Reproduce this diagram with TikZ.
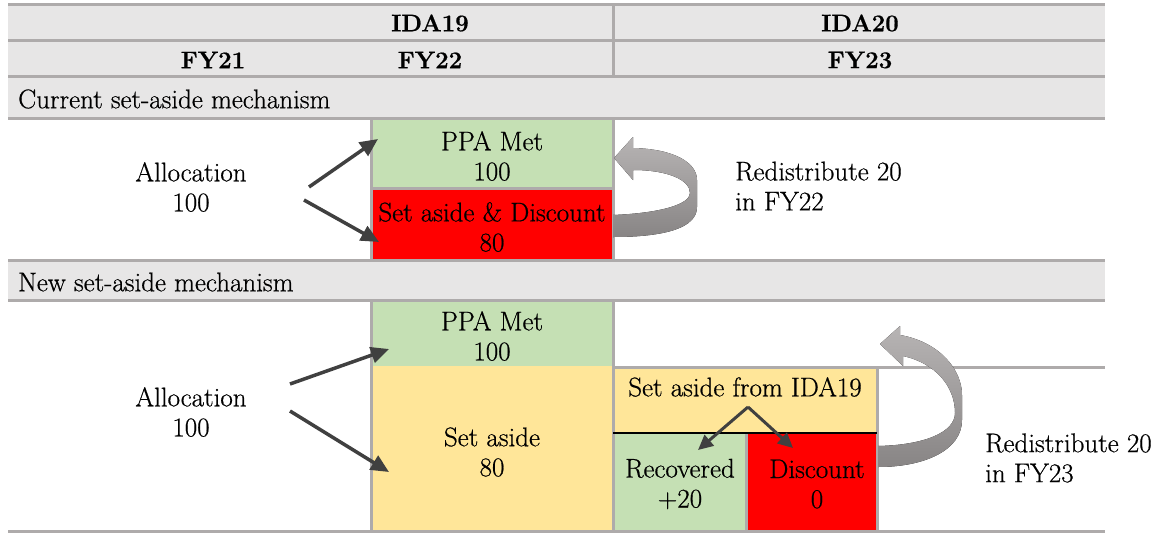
\documentclass[tikz,border=0pt]{standalone}
\usepackage{fontspec}
\setmainfont{Latin Modern Roman}[FakeBold=0.6]
\usetikzlibrary{arrows.meta}
\definecolor{bandgrey}{HTML}{E7E6E6}
\definecolor{rulegrey}{HTML}{AEABAB}
\definecolor{metgreen}{HTML}{C5E0B4}
\definecolor{asideyellow}{HTML}{FFE699}
\definecolor{discred}{HTML}{FF0000}
\definecolor{arrowdark}{HTML}{404040}
\definecolor{swirltop}{HTML}{B7B4B4}
\definecolor{swirlbot}{HTML}{888585}
\tikzset{
  cell/.style={inner sep=0pt, align=center},
  head/.style={font=\fontsize{24}{30}\selectfont\bfseries},
  rule/.style={draw=rulegrey, line width=3pt},
  push/.style={draw=arrowdark, line width=3.5pt, -{Triangle[length=18pt,width=16pt]}},
  split/.style={draw=arrowdark, line width=3pt, -{Triangle[length=15pt,width=14pt]}},
  swirl/.style={top color=swirltop, bottom color=swirlbot, draw=none}
}
\begin{document}
\begin{tikzpicture}[x=1pt, y=-1pt, every node/.style={font=\fontsize{27}{30}\selectfont}]
\useasboundingbox (0,0) rectangle (1156,533);

% grey bands
\fill[bandgrey] (8,4) rectangle (1105,118);
\fill[bandgrey] (8,260) rectangle (1105,300);

% current mechanism boxes
\fill[metgreen] (371,118) rectangle (613,188);
\fill[discred] (371,188) rectangle (613,260);

% new mechanism boxes
\fill[metgreen] (371,300) rectangle (613,366);
\fill[asideyellow] (371,366) rectangle (613,531);
\fill[asideyellow] (613,367) rectangle (877,433);
\fill[metgreen] (613,433) rectangle (746,531);
\fill[discred] (746,433) rectangle (877,531);

% table rules
\draw[rule] (8,4) -- (1105,4) (8,40) -- (1105,40) (8,76) -- (1105,76)
  (8,118) -- (1105,118) (8,260) -- (1105,260) (8,300) -- (1105,300) (8,531) -- (1105,531);
\draw[rule] (613,4) -- (613,76);
\draw[rule] (371,118) -- (371,260) (613,118) -- (613,260) (371,188) -- (613,188);
\draw[rule] (371,300) -- (371,531) (613,300) -- (613,531) (613,367) -- (1105,367);
\draw[rule] (877,367) -- (877,531) (746,433) -- (746,531);
\draw[black, line width=1.2pt] (613,433) -- (877,433);

% headers
\node[head] (ida19) at (430,23) {IDA19};
\node[head] (ida20) at (860,23) {IDA20};
\node[head] (fy21) at (213,60) {FY21};
\node[head] (fy22) at (430,60) {FY22};
\node[head] (fy23) at (860,60) {FY23};
\node[cell, anchor=west] (curhead) at (18,99) {Current set-aside mechanism};
\node[cell, anchor=west] (newhead) at (18,282) {New set-aside mechanism};

% box texts
\node[cell] (met1) at (492,156) {PPA Met\\100};
\node[cell] (disc1) at (492,227) {Set aside \& Discount\\80};
\node[cell] (met2) at (492,336) {PPA Met\\100};
\node[cell] (aside2) at (492,452) {Set aside\\80};
\node[cell] (from19) at (745,387) {Set aside from IDA19};
\node[cell] (recov) at (680,484) {Recovered\\+20};
\node[cell] (disc2) at (817,484) {Discount\\0};

% side texts
\node[cell] (alloc1) at (191,187) {Allocation\\100};
\node[cell] (alloc2) at (191,412) {Allocation\\100};
\node[cell, align=left, anchor=west] (redis1) at (735,186) {Redistribute 20\\in FY22};
\node[cell, align=left, anchor=west] (redis2) at (985,458) {Redistribute 20\\in FY23};

% arrows
\coordinate (t1) at (309,187);
\coordinate (t2) at (304,200);
\coordinate (h1) at (378,139);
\coordinate (h2) at (379,242);
\draw[push] (t1) -- (h1);
\draw[push] (t2) -- (h2);
\coordinate (t3) at (290,384);
\coordinate (t4) at (290,411);
\coordinate (h3) at (389,349);
\coordinate (h4) at (389,472);
\draw[push] (t3) -- (h3);
\draw[push] (t4) -- (h4);
\coordinate (apex) at (748,407);
\coordinate (h5) at (698,450);
\coordinate (h6) at (793,448);
\draw[split] (apex) -- (h5);
\draw[split] (apex) -- (h6);

% redistribute swirls
\fill[swirl] (613,215) .. controls (662,213) and (690,204) .. (690,193)
  .. controls (690,180) and (668,170) .. (633,170)
  -- (633,180) -- (614,158) -- (633,137) -- (633,148)
  .. controls (675,149) and (697,163) .. (697,180)
  -- (697,207) .. controls (697,228) and (665,237) .. (613,237) -- cycle;
\fill[swirl] (878,446) .. controls (925,445) and (955,432) .. (955,413)
  .. controls (955,386) and (935,363) .. (903,356)
  -- (903,366) -- (880,344) -- (900,326) -- (900,335)
  .. controls (940,342) and (962,370) .. (962,395)
  -- (962,420) .. controls (962,450) and (925,467) .. (878,467) -- cycle;
\end{tikzpicture}
\end{document}
